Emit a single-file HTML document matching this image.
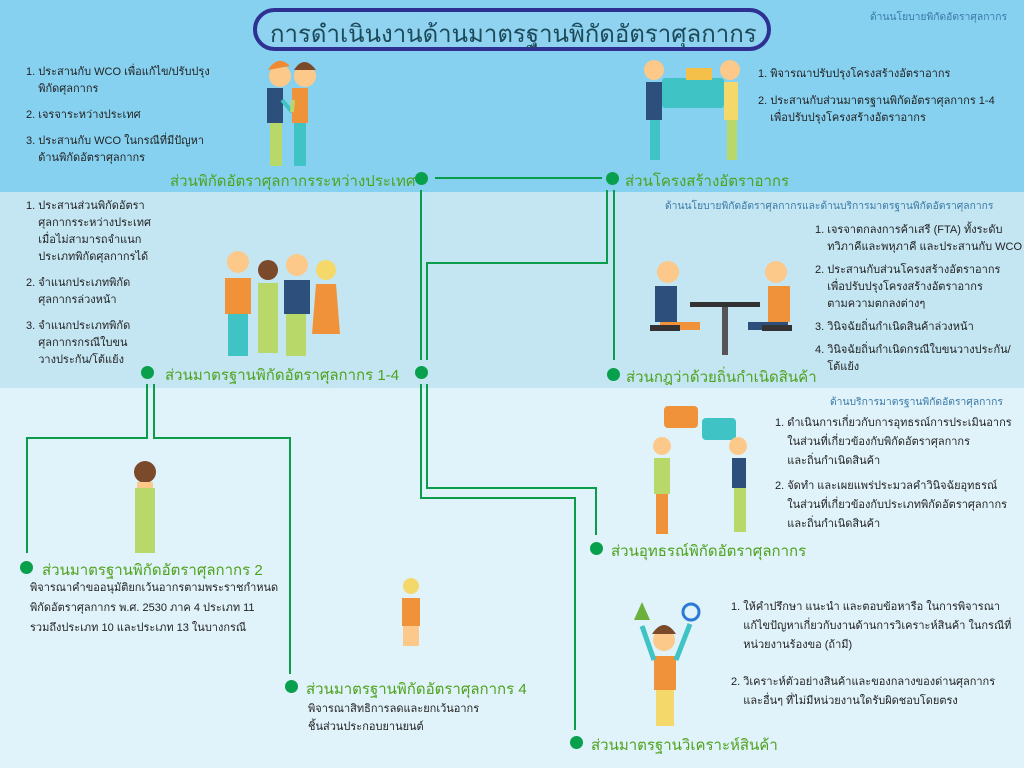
<!DOCTYPE html>
<html><head><meta charset="utf-8"><style>
*{margin:0;padding:0;box-sizing:border-box}
body{width:1024px;height:768px;position:relative;overflow:hidden;font-family:"Liberation Sans","DejaVu Sans",sans-serif;background:#e0f2fa}
.a{position:absolute;white-space:nowrap}
.h{color:#4ea21c;font-size:15px}
.t{color:#222;font-size:11px;line-height:17px}
.s{color:#3a7aa8;font-size:10.3px}
.d{position:absolute;width:13px;height:13px;border-radius:50%;background:#08a04d}
.l{position:absolute;background:#0a9c4a}
</style></head><body>
<div class="a" style="left:0;top:0;width:1024px;height:192px;background:#87d1f0"></div>
<div class="a" style="left:0;top:192px;width:1024px;height:196px;background:#c4e6f3"></div>

<div class="a" style="left:253px;top:8px;width:518px;height:43px;border:4px solid #2e3192;border-radius:22px;background:#8fd3f0"></div>
<div class="a" style="left:270px;top:14px;font-size:24px;color:#1d4a5a">การดำเนินงานด้านมาตรฐานพิกัดอัตราศุลกากร</div>
<div class="a s" style="left:870px;top:8px">ด้านนโยบายพิกัดอัตราศุลกากร</div>
<div class="a s" style="left:665px;top:197px">ด้านนโยบายพิกัดอัตราศุลกากรและด้านบริการมาตรฐานพิกัดอัตราศุลกากร</div>
<div class="a s" style="left:830px;top:393px">ด้านบริการมาตรฐานพิกัดอัตราศุลกากร</div>

<!-- lines -->
<div class="l" style="left:435px;top:177px;width:167px;height:2px"></div>
<div class="l" style="left:420px;top:190px;width:2px;height:170px"></div>
<div class="l" style="left:426px;top:262px;width:2px;height:98px"></div>
<div class="l" style="left:426px;top:262px;width:182px;height:2px"></div>
<div class="l" style="left:606px;top:190px;width:2px;height:74px"></div>
<div class="l" style="left:613px;top:190px;width:2px;height:170px"></div>
<div class="l" style="left:420px;top:384px;width:2px;height:115px"></div>
<div class="l" style="left:426px;top:384px;width:2px;height:105px"></div>
<div class="l" style="left:426px;top:487px;width:171px;height:2px"></div>
<div class="l" style="left:595px;top:487px;width:2px;height:48px"></div>
<div class="l" style="left:420px;top:497px;width:156px;height:2px"></div>
<div class="l" style="left:574px;top:497px;width:2px;height:233px"></div>
<div class="l" style="left:146px;top:384px;width:2px;height:55px"></div>
<div class="l" style="left:26px;top:437px;width:122px;height:2px"></div>
<div class="l" style="left:26px;top:437px;width:2px;height:116px"></div>
<div class="l" style="left:153px;top:384px;width:2px;height:55px"></div>
<div class="l" style="left:153px;top:437px;width:138px;height:2px"></div>
<div class="l" style="left:289px;top:437px;width:2px;height:237px"></div>

<div class="d" style="left:415px;top:172px"></div>
<div class="d" style="left:606px;top:172px"></div>
<div class="d" style="left:415px;top:366px"></div>
<div class="d" style="left:607px;top:368px"></div>
<div class="d" style="left:141px;top:366px"></div>
<div class="d" style="left:20px;top:561px"></div>
<div class="d" style="left:285px;top:680px"></div>
<div class="d" style="left:590px;top:542px"></div>
<div class="d" style="left:570px;top:736px"></div>

<!-- headings -->
<div class="a h" style="left:170px;top:169px">ส่วนพิกัดอัตราศุลกากรระหว่างประเทศ</div>
<div class="a h" style="left:625px;top:169px">ส่วนโครงสร้างอัตราอากร</div>
<div class="a h" style="left:165px;top:363px">ส่วนมาตรฐานพิกัดอัตราศุลกากร 1-4</div>
<div class="a h" style="left:626px;top:365px">ส่วนกฎว่าด้วยถิ่นกำเนิดสินค้า</div>
<div class="a h" style="left:42px;top:558px">ส่วนมาตรฐานพิกัดอัตราศุลกากร 2</div>
<div class="a h" style="left:306px;top:677px">ส่วนมาตรฐานพิกัดอัตราศุลกากร 4</div>
<div class="a h" style="left:611px;top:539px">ส่วนอุทธรณ์พิกัดอัตราศุลกากร</div>
<div class="a h" style="left:591px;top:733px">ส่วนมาตรฐานวิเคราะห์สินค้า</div>

<!-- text blocks -->
<div class="a t" style="left:26px;top:64px">1. ประสานกับ WCO เพื่อแก้ไข/ปรับปรุง<br>&nbsp;&nbsp;&nbsp;&nbsp;พิกัดศุลกากร<br><div style="height:9px"></div>2. เจรจาระหว่างประเทศ<br><div style="height:9px"></div>3. ประสานกับ WCO ในกรณีที่มีปัญหา<br>&nbsp;&nbsp;&nbsp;&nbsp;ด้านพิกัดอัตราศุลกากร</div>
<div class="a t" style="left:758px;top:66px">1. พิจารณาปรับปรุงโครงสร้างอัตราอากร<br><div style="height:10px"></div>2. ประสานกับส่วนมาตรฐานพิกัดอัตราศุลกากร 1-4<br>&nbsp;&nbsp;&nbsp;&nbsp;เพื่อปรับปรุงโครงสร้างอัตราอากร</div>
<div class="a t" style="left:26px;top:198px">1. ประสานส่วนพิกัดอัตรา<br>&nbsp;&nbsp;&nbsp;&nbsp;ศุลกากรระหว่างประเทศ<br>&nbsp;&nbsp;&nbsp;&nbsp;เมื่อไม่สามารถจำแนก<br>&nbsp;&nbsp;&nbsp;&nbsp;ประเภทพิกัดศุลกากรได้<br><div style="height:9px"></div>2. จำแนกประเภทพิกัด<br>&nbsp;&nbsp;&nbsp;&nbsp;ศุลกากรล่วงหน้า<br><div style="height:9px"></div>3. จำแนกประเภทพิกัด<br>&nbsp;&nbsp;&nbsp;&nbsp;ศุลกากรกรณีใบขน<br>&nbsp;&nbsp;&nbsp;&nbsp;วางประกัน/โต้แย้ง</div>
<div class="a t" style="left:815px;top:222px">1. เจรจาตกลงการค้าเสรี (FTA) ทั้งระดับ<br>&nbsp;&nbsp;&nbsp;&nbsp;ทวิภาคีและพหุภาคี และประสานกับ WCO<br><div style="height:6px"></div>2. ประสานกับส่วนโครงสร้างอัตราอากร<br>&nbsp;&nbsp;&nbsp;&nbsp;เพื่อปรับปรุงโครงสร้างอัตราอากร<br>&nbsp;&nbsp;&nbsp;&nbsp;ตามความตกลงต่างๆ<br><div style="height:6px"></div>3. วินิจฉัยถิ่นกำเนิดสินค้าล่วงหน้า<br><div style="height:6px"></div>4. วินิจฉัยถิ่นกำเนิดกรณีใบขนวางประกัน/<br>&nbsp;&nbsp;&nbsp;&nbsp;โต้แย้ง</div>
<div class="a t" style="left:775px;top:414px;line-height:19px">1. ดำเนินการเกี่ยวกับการอุทธรณ์การประเมินอากร<br>&nbsp;&nbsp;&nbsp;&nbsp;ในส่วนที่เกี่ยวข้องกับพิกัดอัตราศุลกากร<br>&nbsp;&nbsp;&nbsp;&nbsp;และถิ่นกำเนิดสินค้า<br><div style="height:6px"></div>2. จัดทำ และเผยแพร่ประมวลคำวินิจฉัยอุทธรณ์<br>&nbsp;&nbsp;&nbsp;&nbsp;ในส่วนที่เกี่ยวข้องกับประเภทพิกัดอัตราศุลกากร<br>&nbsp;&nbsp;&nbsp;&nbsp;และถิ่นกำเนิดสินค้า</div>
<div class="a t" style="left:30px;top:578px;line-height:20px">พิจารณาคำขออนุมัติยกเว้นอากรตามพระราชกำหนด<br>พิกัดอัตราศุลกากร พ.ศ. 2530 ภาค 4 ประเภท 11<br>รวมถึงประเภท 10 และประเภท 13 ในบางกรณี</div>
<div class="a t" style="left:308px;top:700px;line-height:18px">พิจารณาสิทธิการลดและยกเว้นอากร<br>ชิ้นส่วนประกอบยานยนต์</div>
<div class="a t" style="left:731px;top:598px;line-height:19px">1. ให้คำปรึกษา แนะนำ และตอบข้อหารือ ในการพิจารณา<br>&nbsp;&nbsp;&nbsp;&nbsp;แก้ไขปัญหาเกี่ยวกับงานด้านการวิเคราะห์สินค้า ในกรณีที่<br>&nbsp;&nbsp;&nbsp;&nbsp;หน่วยงานร้องขอ (ถ้ามี)<br><div style="height:18px"></div>2. วิเคราะห์ตัวอย่างสินค้าและของกลางของด่านศุลกากร<br>&nbsp;&nbsp;&nbsp;&nbsp;และอื่นๆ ที่ไม่มีหน่วยงานใดรับผิดชอบโดยตรง</div>

<!-- figures -->
<svg class="a" style="left:0;top:0" width="1024" height="768">
<g><circle cx="280" cy="76" r="11" fill="#fcc98b"/><path d="M268 70 q10-16 22-4 z" fill="#f08a32"/><rect x="267" y="88" width="16" height="35" fill="#2c4f7c"/><rect x="270" y="123" width="12" height="43" fill="#b8d96a"/><rect x="292" y="88" width="16" height="35" fill="#f0923a"/><rect x="294" y="123" width="12" height="43" fill="#3fc3c4"/><circle cx="305" cy="76" r="11" fill="#fcc98b"/><path d="M294 70 q10-16 22 0 z" fill="#7a4a2a"/><line x1="282" y1="100" x2="292" y2="112" stroke="#3fc3c4" stroke-width="4"/><line x1="293" y1="100" x2="292" y2="112" stroke="#b8d96a" stroke-width="4"/></g>
<g><rect x="662" y="78" width="62" height="30" rx="3" fill="#3fc3c4"/><rect x="686" y="68" width="26" height="12" fill="#f5c04a"/><circle cx="654" cy="70" r="10" fill="#fcc98b"/><rect x="646" y="82" width="16" height="38" fill="#2c4f7c"/><rect x="650" y="120" width="10" height="40" fill="#3fc3c4"/><circle cx="730" cy="70" r="10" fill="#fcc98b"/><rect x="724" y="82" width="14" height="38" fill="#f5d86a"/><rect x="727" y="120" width="10" height="40" fill="#b8d96a"/></g>
<g><circle cx="238" cy="262" r="11" fill="#fcc98b"/><rect x="225" y="278" width="26" height="36" fill="#f0923a"/><rect x="228" y="314" width="20" height="42" fill="#3fc3c4"/><circle cx="268" cy="270" r="10" fill="#7a4a2a"/><rect x="258" y="283" width="20" height="70" fill="#b8d96a"/><circle cx="297" cy="265" r="11" fill="#fcc98b"/><rect x="284" y="280" width="26" height="34" fill="#2c4f7c"/><rect x="286" y="314" width="20" height="42" fill="#b8d96a"/><circle cx="326" cy="270" r="10" fill="#f5d86a"/><path d="M316 284 h20 l4 50 h-28 z" fill="#f0923a"/></g>
<g><rect x="690" y="302" width="70" height="5" fill="#333"/><rect x="722" y="307" width="6" height="48" fill="#555"/><circle cx="668" cy="272" r="11" fill="#fcc98b"/><rect x="655" y="286" width="22" height="36" fill="#2c4f7c"/><rect x="660" y="322" width="40" height="8" fill="#f0923a"/><rect x="650" y="325" width="30" height="6" fill="#333"/><circle cx="776" cy="272" r="11" fill="#fcc98b"/><rect x="768" y="286" width="22" height="36" fill="#f0923a"/><rect x="748" y="322" width="40" height="8" fill="#2c4f7c"/><rect x="762" y="325" width="30" height="6" fill="#333"/></g>
<g><circle cx="145" cy="472" r="11" fill="#7a4a2a"/><rect x="137" y="482" width="16" height="8" fill="#fcc98b"/><rect x="135" y="488" width="20" height="65" fill="#b8d96a"/></g>
<g><circle cx="411" cy="586" r="8" fill="#f5d86a"/><rect x="402" y="598" width="18" height="28" fill="#f0923a"/><rect x="403" y="626" width="16" height="20" fill="#fcc98b"/></g>
<g><rect x="664" y="406" width="34" height="22" rx="4" fill="#f0923a"/><rect x="702" y="418" width="34" height="22" rx="4" fill="#3fc3c4"/><circle cx="662" cy="446" r="9" fill="#fcc98b"/><rect x="654" y="458" width="16" height="36" fill="#b8d96a"/><rect x="656" y="494" width="12" height="40" fill="#f0923a"/><circle cx="738" cy="446" r="9" fill="#fcc98b"/><rect x="732" y="458" width="14" height="30" fill="#2c4f7c"/><rect x="734" y="488" width="12" height="44" fill="#b8d96a"/></g>
<g><path d="M634 620 l8-18 l8 18 z" fill="#6ab03a"/><circle cx="691" cy="612" r="8" fill="none" stroke="#2b7bd6" stroke-width="3"/><circle cx="664" cy="640" r="11" fill="#fcc98b"/><path d="M652 634 q12-18 24 0 z" fill="#7a4a2a"/><rect x="654" y="656" width="22" height="34" fill="#f0923a"/><rect x="656" y="690" width="18" height="36" fill="#f5d86a"/><line x1="654" y1="660" x2="642" y2="626" stroke="#3fc3c4" stroke-width="5"/><line x1="676" y1="660" x2="690" y2="624" stroke="#3fc3c4" stroke-width="5"/></g>
</svg>
</body></html>
